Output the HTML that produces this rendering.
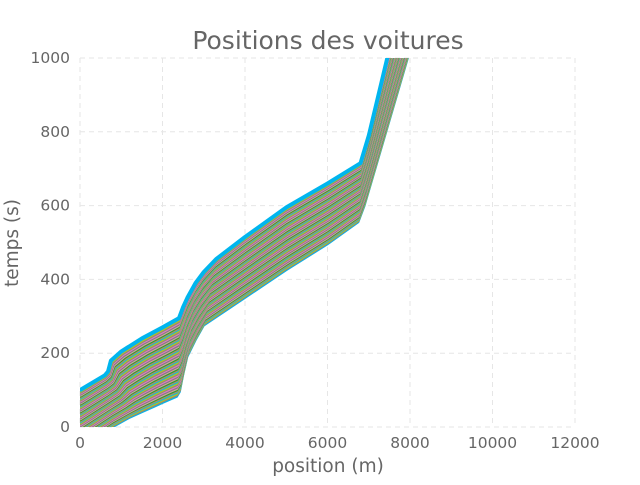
<!DOCTYPE html>
<html><head><meta charset="utf-8"><style>
body{margin:0;background:#fff;}
svg text{font-family:"DejaVu Sans","Liberation Sans",sans-serif;fill:#666;}
</style></head><body>
<svg id="c" width="640" height="480">
<text x="328" y="49" font-size="25" text-anchor="middle">Positions des voitures</text>
<text x="328" y="472" font-size="18.5" text-anchor="middle">position (m)</text>
<text x="18" y="243" font-size="18.5" text-anchor="middle" transform="rotate(-90 18 243)">temps (s)</text>
<g id="grid"></g><defs><clipPath id="clip"><rect x="80" y="58" width="495" height="369"/></clipPath></defs>
<g id="lines" clip-path="url(#clip)"></g><g id="ticks"></g>
</svg>
<script>
const xTicks=[0,2000,4000,6000,8000,10000,12000];
const yTicks=[0,200,400,600,800,1000];
const firstCarX=[0,800,1200,1500,1800,2000,2200,2350,2420,2500,2600,2800,3000,4000,5000,6000,6750,6900,7950,8000];
const firstCarT=[-60,0,25,40,55,65,75,82,95,140,190,235,275,350,425,495,555,600,1000,1020];
const lastCarX=[0,600,680,750,1000,1500,2000,2400,2500,2600,2800,3000,3300,4000,5000,6000,6800,7000,7450,7500];
const lastCarT=[100,140,150,180,205,240,270,295,325,350,390,420,455,515,595,660,715,790,1000,1020];
const carFractions=[];for(let i=0;i<=60;i++)carFractions.push(i/60);
const colors=['#e377c2','#8c8c7a','#bcbd22','#17becf','#b08a6a','#2ca02c','#d4a0a0','#7f7f7f'];
const X=v=>80+v*495/12000, Y=v=>427-v*369/1000;
const ns='http://www.w3.org/2000/svg';
const grid=document.getElementById('grid'), ticks=document.getElementById('ticks'), lines=document.getElementById('lines');
xTicks.forEach(v=>{
 const l=document.createElementNS(ns,'line');
 
 
 l.setAttribute('x1',X(v));l.setAttribute('x2',X(v));l.setAttribute('y1',58);l.setAttribute('y2',427);
 l.setAttribute('stroke','#e6e6e6');l.setAttribute('stroke-dasharray','5,4');grid.appendChild(l);
 const t=document.createElementNS(ns,'text');
 
 
 t.setAttribute('x',X(v));t.setAttribute('y',448);t.setAttribute('font-size','15.5');t.setAttribute('text-anchor','middle');t.textContent=v;ticks.appendChild(t);
});
yTicks.forEach(v=>{
 const l=document.createElementNS(ns,'line');
 
 
 l.setAttribute('x1',80);l.setAttribute('x2',575);l.setAttribute('y1',Y(v));l.setAttribute('y2',Y(v));
 l.setAttribute('stroke','#e6e6e6');l.setAttribute('stroke-dasharray','5,4');grid.appendChild(l);
 const t=document.createElementNS(ns,'text');
 
 
 t.setAttribute('x',70);t.setAttribute('y',Y(v)+5);t.setAttribute('font-size','15.5');t.setAttribute('text-anchor','end');t.textContent=v;ticks.appendChild(t);
});
carFractions.forEach((f,i)=>{
 let d='';
 for(let k=0;k<firstCarX.length;k++){
  const x=firstCarX[k]*(1-f)+lastCarX[k]*f, t=firstCarT[k]*(1-f)+lastCarT[k]*f;
  d+=(k?'L':'M')+X(x).toFixed(1)+','+Y(t).toFixed(1);
 }
 const p=document.createElementNS(ns,'path');
 
 
 const last=i===carFractions.length-1, first=i===0;
 p.setAttribute('d',d);p.setAttribute('fill','none');
 p.setAttribute('stroke',(last||first)?'#00B5EE':colors[i%colors.length]);
 p.setAttribute('stroke-width',last?4:2);p.setAttribute('stroke-linejoin','round');
 lines.appendChild(p);
});
</script>
</body></html>
